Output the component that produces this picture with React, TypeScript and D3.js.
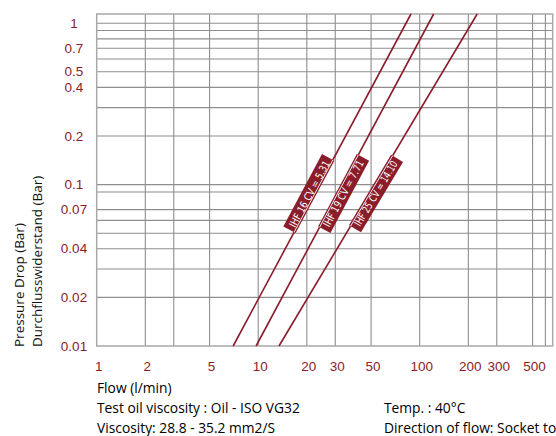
import React from "react";
import * as d3 from "d3";

// Grid values (log-log chart)
const xGridValues = [2, 3, 5, 10, 20, 30, 50, 100, 200, 300, 500, 600];
const yGridValues = [0.02, 0.03, 0.04, 0.05, 0.06, 0.07, 0.09, 0.1, 0.2, 0.3, 0.4, 0.5, 0.6, 0.7, 0.8, 0.9, 1];
const xTickLabels = [1, 2, 5, 10, 20, 30, 50, 100, 200, 300, 500];
const yTickLabels = [1, 0.7, 0.5, 0.4, 0.2, 0.1, 0.07, 0.04, 0.02, 0.01];

// Series: flow (l/min) at the pressure drops below
const seriesNames = ["IHF 16 CV = 5.31", "IHF 19 CV = 7.71", "IHF 25 CV = 14.10"];
const seriesPressure = [0.01, 1.14];
const seriesFlow = [
  [7.0, 88.3],
  [9.7, 122],
  [13.45, 227],
];
const labelPressure = 0.088;
const labelSide = [-1, 1, 1];

const footLeft = ["Flow (l/min)", "Test oil viscosity : Oil - ISO VG32", "Viscosity: 28.8 - 35.2 mm2/S"];
const footRight = ["Temp. : 40°C", "Direction of flow: Socket to hose"];

const W = 556;
const H = 436;
const RED = "#8b1c2a";
const GRID = "#8e8e8e";

export default function App() {
  const x = d3.scaleLog().domain([1, 666]).range([96.7, 552.7]);
  const y = d3.scaleLog().domain([0.01, 1.14]).range([346, 14]);
  const [x0, x1] = x.range();
  const [y0, y1] = y.range();
  const line = d3
    .line<[number, number]>()
    .x((d) => x(d[0]))
    .y((d) => y(d[1]));

  const uiFont = "'Open Sans', 'Noto Sans', sans-serif";
  const tickFont = "'Liberation Sans', Arial, sans-serif";

  const labelGeom = seriesFlow.map((f, i) => {
    const pA: [number, number] = [x(f[0]), y(seriesPressure[0])];
    const pB: [number, number] = [x(f[1]), y(seriesPressure[1])];
    const ang = (Math.atan2(pB[1] - pA[1], pB[0] - pA[0]) * 180) / Math.PI;
    const t =
      (Math.log(labelPressure) - Math.log(seriesPressure[0])) /
      (Math.log(seriesPressure[1]) - Math.log(seriesPressure[0]));
    const fl = Math.exp(Math.log(f[0]) + t * (Math.log(f[1]) - Math.log(f[0])));
    const cx = x(fl) + labelSide[i] * 6;
    const cy = y(labelPressure);
    return { ang, cx, cy };
  });

  return (
    <svg
      width={W}
      height={H}
      style={{ position: "absolute", left: 0, top: 0, background: "#fff" }}
    >
      <defs>
        {labelGeom.map((g, i) => (
          <clipPath id={`lblclip${i}`} key={i}>
            <rect
              x={-41}
              y={-7}
              width={82}
              height={14}
              transform={`translate(${g.cx},${g.cy}) rotate(${g.ang})`}
            />
          </clipPath>
        ))}
      </defs>

      {/* grid */}
      <g>
        {xGridValues.map((v) => (
          <line key={`xv${v}`} x1={x(v)} x2={x(v)} y1={y0} y2={y1} stroke={GRID} strokeWidth={1.1} />
        ))}
        {yGridValues.map((v) => (
          <line key={`yv${v}`} x1={x0} x2={x1} y1={y(v)} y2={y(v)} stroke={GRID} strokeWidth={1.1} />
        ))}
        <rect x={x0} y={y1} width={x1 - x0} height={y0 - y1} fill="none" stroke="#a9a9a9" strokeWidth={1.5} />
      </g>

      {/* series lines */}
      <g>
        {seriesFlow.map((f, i) => (
          <path
            key={i}
            d={line([
              [f[0], seriesPressure[0]],
              [f[1], seriesPressure[1]],
            ]) as string}
            fill="none"
            stroke={RED}
            strokeWidth={1.6}
          />
        ))}
      </g>

      {/* labels */}
      <g>
        {seriesFlow.map((f, i) => {
          const g = labelGeom[i];
          return (
            <g key={i}>
              <rect
                x={-41}
                y={-7}
                width={82}
                height={14}
                fill={RED}
                transform={`translate(${g.cx},${g.cy}) rotate(${g.ang})`}
              />
              <path
                d={line([
                  [f[0], seriesPressure[0]],
                  [f[1], seriesPressure[1]],
                ]) as string}
                fill="none"
                stroke="#fff"
                strokeWidth={0.9}
                clipPath={`url(#lblclip${i})`}
              />
              <text
                transform={`translate(${g.cx},${g.cy}) rotate(${g.ang})`}
                textAnchor="middle"
                dominantBaseline="central"
                fill="#fff"
                fontSize={10.5}
                fontFamily="'Liberation Sans Narrow', 'DejaVu Sans Condensed', sans-serif"
                textLength={74}
                lengthAdjust="spacingAndGlyphs"
                dy={labelSide[i] * -0.5}
              >
                {seriesNames[i]}
              </text>
            </g>
          );
        })}
      </g>

      {/* tick labels */}
      <g fill={RED} fontFamily={tickFont} fontSize={13.5}>
        {yTickLabels.map((v) => (
          <text key={`yl${v}`} x={74} y={y(v)} textAnchor="middle" dominantBaseline="central">
            {String(v)}
          </text>
        ))}
        {xTickLabels.map((v) => (
          <text key={`xl${v}`} x={x(v) + 2} y={371} textAnchor="middle">
            {String(v)}
          </text>
        ))}
      </g>

      {/* axis titles */}
      <g fill="#111" fontFamily={uiFont} fontSize={13.5} fontWeight={500}>
        <text transform={`translate(24,347) rotate(-90)`} textAnchor="start">
          Pressure Drop (Bar)
        </text>
        <text transform={`translate(42,347) rotate(-90)`} textAnchor="start">
          Durchflusswiderstand (Bar)
        </text>
      </g>

      {/* footer */}
      <g fill="#000" fontFamily={uiFont} fontSize={13.8} fontWeight={500}>
        {footLeft.map((s, i) => (
          <text key={`fl${i}`} x={97} y={393 + i * 20}>
            {s}
          </text>
        ))}
        {footRight.map((s, i) => (
          <text key={`fr${i}`} x={384} y={413 + i * 20}>
            {s}
          </text>
        ))}
      </g>
    </svg>
  );
}
